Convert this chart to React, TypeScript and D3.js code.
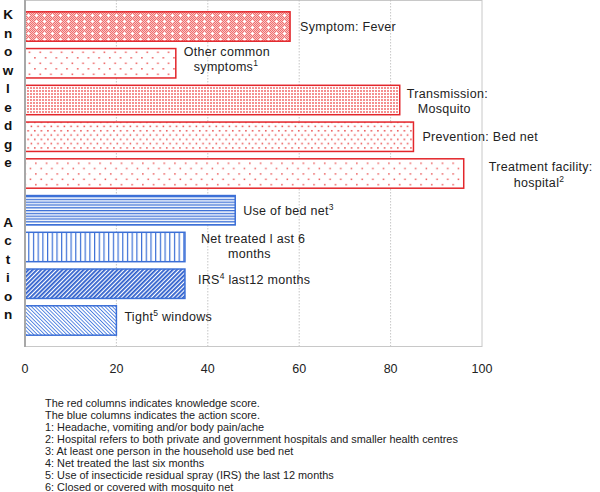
import React from "react";
import * as d3 from "d3";

const categories = [
  "Symptom: Fever",
  "Other common symptoms",
  "Transmission: Mosquito",
  "Prevention: Bed net",
  "Treatment facility: hospital",
  "Use of bed net",
  "Net treated last 6 months",
  "IRS last12 months",
  "Tight windows",
];
const values = [58, 33, 82, 85, 96, 46, 35, 35, 20];
const groups = ["k", "k", "k", "k", "k", "a", "a", "a", "a"];
const xTicks = [0, 20, 40, 60, 80, 100];
const footnotes = [
  "The red columns indicates  knowledge score.",
  "The blue columns indicates the action score.",
  "1: Headache, vomiting and/or body pain/ache",
  "2: Hospital refers to both private and government hospitals and smaller health centres",
  "3: At least one person in the household use bed net",
  "4: Net treated the last six months",
  "5: Use of insecticide residual spray (IRS) the last 12 months",
  "6: Closed or covered with mosquito net",
];
// label lines: [text, superscript, rest]
const labelLines: [string, string, string][][] = [
  [["Symptom:  Fever", "", ""]],
  [["Other common", "", ""], ["symptoms", "1", ""]],
  [["Transmission:", "", ""], ["Mosquito", "", ""]],
  [["Prevention: Bed net", "", ""]],
  [["Treatment facility:", "", ""], ["hospital", "2", ""]],
  [["Use of bed net", "3", ""]],
  [["Net treated l ast  6", "", ""], ["months", "", ""]],
  [["IRS", "4", " last12 months"]],
  [["Tight", "5", " windows"]],
];
const knowledgeWord = "Knowledge";
const actionWord = "Action";

// layout (offsets of each label line from bar end / bar centre)
const labelLayout: [number, number][][] = [
  [[10, 4.5]],
  [[8, -7], [18, 8]],
  [[7, -2], [18, 13]],
  [[9, 4.5]],
  [[25, -3], [50, 13]],
  [[8, 4.5]],
  [[16, -4], [43, 11]],
  [[13, 0.5]],
  [[8, 0.5]],
];
const patternIds = ["pFever", "pOther", "pTrans", "pPrev", "pTreat", "pHoriz", "pVert", "pIRS", "pTight"];

const W = 600;
const H = 492;
const left = 25;
const right = 482;
const top = 0;
const bottom = 346;

export default function App() {
  const x = d3.scaleLinear().domain([0, 100]).range([left, right]);
  const y = d3
    .scaleBand<string>()
    .domain(categories)
    .range([3, 344])
    .paddingInner(0.2)
    .paddingOuter(0.24);
  const red = "#e3262b";
  const blue = "#3b6fd6";
  const font = "Liberation Sans, Arial, Helvetica, sans-serif";
  return (
    <svg
      width={W}
      height={H}
      style={{ position: "absolute", left: 0, top: 0, background: "#fff" }}
      fontFamily={font}
    >
      <defs>
        <pattern id="pFeverBase" width={2} height={2} patternUnits="userSpaceOnUse">
          <rect width={2} height={2} fill="#f9c6c6" />
          <rect x={0} y={0} width={1} height={1} fill="#ef6e6e" />
          <rect x={1} y={1} width={1} height={1} fill="#ef6e6e" />
        </pattern>
        <pattern id="pFever" width={8} height={6} patternUnits="userSpaceOnUse">
          <rect width={8} height={6} fill="url(#pFeverBase)" />
          <rect x={3} y={3} width={3} height={1} fill="#fff" />
          <rect x={4} y={2} width={1} height={3} fill="#fff" />
        </pattern>
        <pattern id="pOther" width={10.7} height={11} patternUnits="userSpaceOnUse">
          <rect width={10.7} height={11} fill="#fff" />
          <rect x={2} y={2} width={1.6} height={1.6} fill="#ef6a6a" />
          <rect x={7.35} y={7.5} width={1.6} height={1.6} fill="#ef6a6a" />
        </pattern>
        <pattern id="pTrans" width={3} height={3} patternUnits="userSpaceOnUse">
          <rect width={3} height={3} fill="#fff" />
          <rect x={0} y={0} width={2} height={2} fill="#f49090" />
        </pattern>
        <pattern id="pPrev" width={6.6} height={8.6} patternUnits="userSpaceOnUse">
          <rect width={6.6} height={8.6} fill="#fff" />
          <rect x={1} y={1} width={1.5} height={1.5} fill="#e94848" />
          <rect x={4.3} y={5.3} width={1.5} height={1.5} fill="#e94848" />
        </pattern>
        <pattern id="pTreat" width={10.7} height={10.7} patternUnits="userSpaceOnUse">
          <rect width={10.7} height={10.7} fill="#fff" />
          <rect x={3} y={2} width={1.5} height={1.5} fill="#ec5a5a" />
          <rect x={8.35} y={7.35} width={1.5} height={1.5} fill="#ec5a5a" />
        </pattern>
        <pattern id="pHoriz" width={6} height={2.8} patternUnits="userSpaceOnUse">
          <rect width={6} height={2.8} fill="#fff" />
          <rect x={0} y={0} width={6} height={1.3} fill={blue} />
        </pattern>
        <pattern id="pVert" width={4.7} height={6} patternUnits="userSpaceOnUse">
          <rect width={4.7} height={6} fill="#fff" />
          <rect x={0} y={0} width={1.2} height={6} fill={blue} />
        </pattern>
        <pattern
          id="pIRS"
          width={3}
          height={6}
          patternUnits="userSpaceOnUse"
          patternTransform="rotate(45)"
        >
          <rect width={3} height={6} fill="#fff" />
          <rect x={0} y={0} width={1.8} height={6} fill="#2e5fcc" />
        </pattern>
        <pattern
          id="pTight"
          width={2.6}
          height={6}
          patternUnits="userSpaceOnUse"
          patternTransform="rotate(-45)"
        >
          <rect width={2.6} height={6} fill="#fff" />
          <rect x={0} y={0} width={0.9} height={6} fill="#4a7ee0" />
        </pattern>
      </defs>

      {/* frame */}
      <rect
        x={left}
        y={top + 0.5}
        width={right - left}
        height={bottom - top}
        fill="none"
        stroke="#c8c8c8"
        strokeWidth={1}
      />
      {xTicks
        .filter((t) => t > 0 && t < 100)
        .map((t) => (
          <line
            key={t}
            x1={x(t)}
            x2={x(t)}
            y1={top}
            y2={bottom}
            stroke="#b8b8b8"
            strokeWidth={0.8}
            strokeDasharray="1.5,1.5"
          />
        ))}

      {/* bars */}
      {categories.map((c, i) => {
        const isK = groups[i] === "k";
        return (
          <rect
            key={c}
            x={x(0)}
            y={y(c)}
            width={x(values[i]) - x(0)}
            height={y.bandwidth()}
            fill={`url(#${patternIds[i]})`}
            stroke={isK ? red : blue}
            strokeWidth={1.5}
          />
        );
      })}

      {/* left axis line */}
      <line x1={left} x2={left} y1={top} y2={bottom + 1} stroke="#a8a8a8" strokeWidth={2} />

      {/* labels */}
      {categories.map((c, i) => {
        const cy = (y(c) as number) + y.bandwidth() / 2;
        const x0 = x(values[i]);
        return labelLines[i].map((ln, j) => {
          const [dx, dy] = labelLayout[i][j];
          return (
            <text
              key={c + j}
              x={x0 + dx}
              y={cy + dy}
              fontSize={12.5}
              fill="#222"
              style={{ letterSpacing: "0.3px" }}
            >
              {ln[0]}
              {ln[1] && (
                <tspan fontSize={8.5} dy={-5}>
                  {ln[1]}
                </tspan>
              )}
              {ln[2] && <tspan dy={ln[1] ? 5 : 0}>{ln[2]}</tspan>}
            </text>
          );
        });
      })}

      {/* group labels (vertical) */}
      {knowledgeWord.split("").map((ch, i) => (
        <text
          key={"k" + i}
          x={8}
          y={19 + i * 18.5}
          textAnchor="middle"
          fontSize={13.5}
          fontWeight="bold"
          fill="#111"
        >
          {ch}
        </text>
      ))}
      {actionWord.split("").map((ch, i) => (
        <text
          key={"a" + i}
          x={8}
          y={227 + i * 18.4}
          textAnchor="middle"
          fontSize={13.5}
          fontWeight="bold"
          fill="#111"
        >
          {ch}
        </text>
      ))}

      {/* x tick labels */}
      {xTicks.map((t) => (
        <text
          key={"t" + t}
          x={x(t)}
          y={373}
          textAnchor="middle"
          fontSize={12.5}
          fill="#222"
        >
          {t}
        </text>
      ))}

      {/* footnotes */}
      {footnotes.map((f, i) => (
        <text key={"f" + i} x={45} y={407 + i * 12} fontSize={10.9} fill="#222">
          {f}
        </text>
      ))}
    </svg>
  );
}
